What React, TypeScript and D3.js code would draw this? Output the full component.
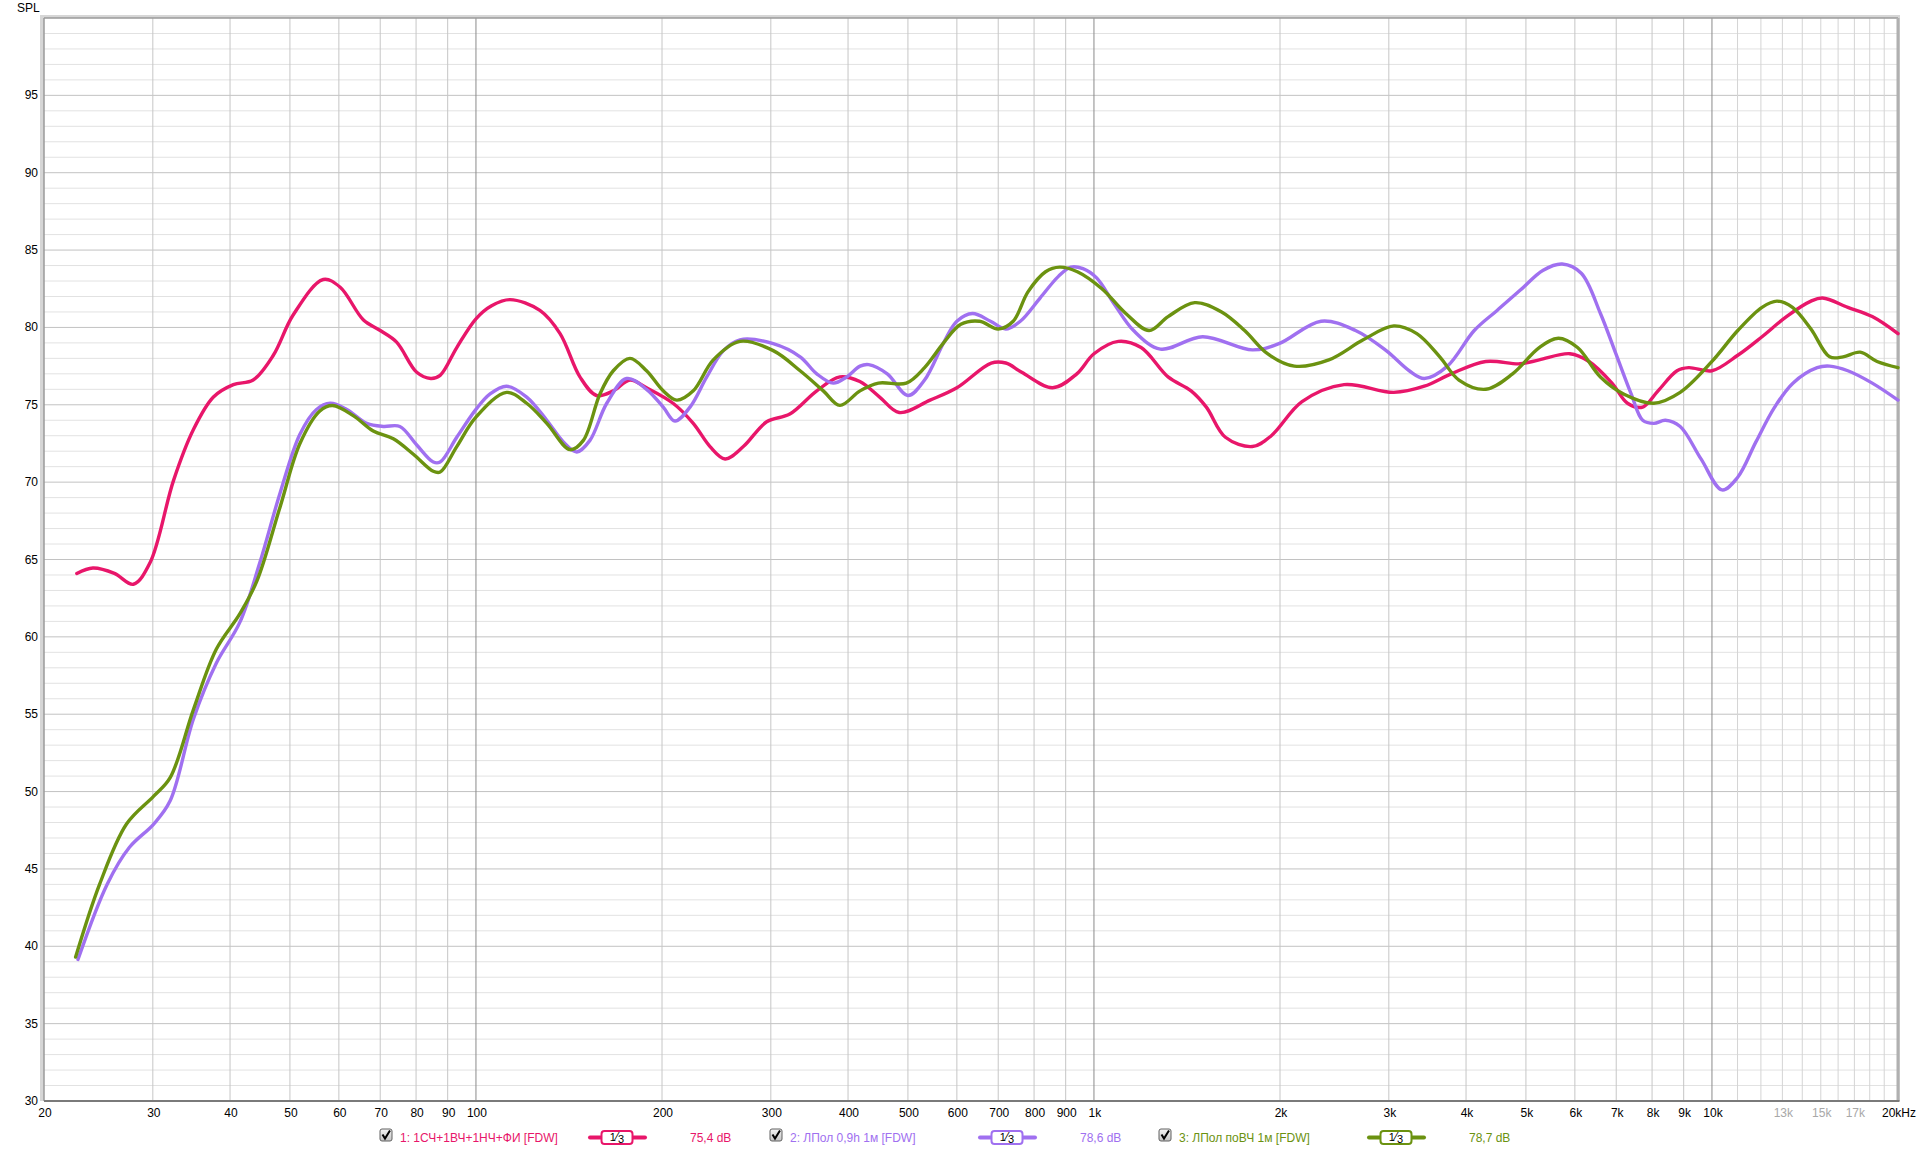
import React from "react";
import * as d3 from "d3";

// ---------- data ----------
const seriesNames = ["1: 1СЧ+1ВЧ+1НЧ+ФИ [FDW]", "2: ЛПол 0,9h 1м [FDW]", "3: ЛПол поВЧ 1м [FDW]"];
const seriesLevels = ["75,4 dB", "78,6 dB", "78,7 dB"];
const seriesColors = ["#e8166a", "#a070f0", "#6b9210"];

const series1: [number, number][] = [
  [22.6, 64.1], [24.0, 64.45], [26, 64.1], [27.9, 63.4], [29.7, 64.8], [32.4, 70.1], [34.9, 73.4],
  [37.6, 75.5], [40.5, 76.3], [43.6, 76.6], [47, 78.2], [50.6, 80.8], [56.6, 83.1], [60.3, 82.6],
  [65.7, 80.5], [70, 79.8], [74.4, 79.05], [80.2, 77.1], [84.5, 76.7], [87.5, 76.9], [93.1, 78.7],
  [100, 80.56], [106, 81.4], [113.5, 81.8], [126.9, 81.1], [136.8, 79.6], [147.3, 76.8], [156.7, 75.6],
  [166.8, 75.9], [177.5, 76.6], [188.8, 76.1], [208.4, 75.1], [224.7, 73.8], [239.2, 72.3], [253, 71.5],
  [270.8, 72.3], [295.4, 73.9], [322, 74.4], [356, 75.9], [388, 76.8], [418, 76.5], [450, 75.5],
  [484, 74.5], [543, 75.3], [600, 76.1], [682, 77.7], [720, 77.7], [764, 77.1], [857, 76.1],
  [938, 77.0], [1000, 78.3], [1095, 79.1], [1192, 78.7], [1318, 76.8], [1436, 75.9], [1520, 74.85],
  [1632, 72.9], [1804, 72.3], [1936, 73.0], [2171, 75.2], [2539, 76.3], [3056, 75.8], [3424, 76.2],
  [3785, 77.0], [4305, 77.8], [4892, 77.65], [5254, 77.9], [5890, 78.3], [6325, 77.8], [6890, 76.4],
  [7300, 75.1], [7725, 74.85], [8180, 75.9], [8780, 77.2], [9170, 77.4], [10000, 77.2], [11010, 78.2],
  [12050, 79.4], [13200, 80.7], [14460, 81.7], [15100, 81.9], [16590, 81.3], [18170, 80.7], [20000, 79.6],
];

const series2: [number, number][] = [
  [22.7, 39.15], [25.3, 44.0], [27.5, 46.4], [30.1, 47.9], [32.0, 49.4], [34.9, 54.7], [38.0, 58.3],
  [41.5, 60.95], [44.7, 64.8], [48.2, 69.3], [51.9, 73.1], [55.2, 74.7], [58.1, 75.1], [61.8, 74.7],
  [66.6, 73.8], [70.8, 73.6], [75.3, 73.6], [80.2, 72.4], [85.3, 71.3], [87.5, 71.3], [93.1, 72.9],
  [100, 74.7], [105.4, 75.7], [112.1, 76.2], [120.8, 75.5], [130.2, 74.0], [138.5, 72.6], [145.6, 71.95],
  [152.9, 72.7], [162.8, 75.1], [175.3, 76.7], [188.8, 76.0], [200.9, 74.85], [209.9, 73.95], [222, 74.85],
  [236.3, 76.8], [251.4, 78.5], [267.4, 79.2], [302.7, 78.95], [334.6, 78.1], [356, 77.0], [378.6, 76.4],
  [397.9, 76.8], [418.3, 77.5], [432, 77.6], [463, 77.0], [500, 75.6], [532, 76.6], [571, 79.0],
  [600, 80.4], [636, 80.9], [680, 80.4], [720, 79.9], [760, 80.4], [818, 81.9], [876, 83.3], [917, 83.9],
  [960, 83.8], [1010, 83.2], [1079, 81.5], [1159, 79.8], [1281, 78.6], [1499, 79.4], [1804, 78.55],
  [1992, 78.95], [2331, 80.4], [2650, 79.8], [2971, 78.5], [3237, 77.2], [3424, 76.7], [3733, 77.5],
  [4124, 79.8], [4491, 81.1], [4892, 82.4], [5332, 83.7], [5723, 84.1], [6145, 83.5], [6600, 80.9],
  [6990, 78.3], [7400, 75.7], [7725, 74.0], [8055, 73.8], [8408, 74.0], [8883, 73.6], [9600, 71.5],
  [10380, 69.5], [11000, 70.3], [11780, 72.6], [12610, 74.8], [13520, 76.4], [14800, 77.4], [15500, 77.5],
  [16590, 77.2], [18170, 76.4], [20000, 75.3],
];

const series3: [number, number][] = [
  [22.5, 39.3], [24.6, 44.0], [27.2, 47.9], [30.1, 49.7], [32.0, 50.9], [34.9, 55.3], [38.0, 59.2],
  [41.5, 61.5], [44.2, 63.6], [48.2, 68.4], [51.9, 72.5], [55.9, 74.6], [58.6, 74.95], [63.3, 74.3],
  [68.2, 73.3], [73.5, 72.8], [79.2, 71.8], [85.3, 70.7], [87.5, 70.65], [93.1, 72.3], [100, 74.2],
  [112.1, 75.8], [120.8, 75.1], [130.2, 73.8], [142, 72.1], [149.2, 72.7], [158.7, 75.7], [166.8, 77.2],
  [177.5, 78.0], [188.8, 77.2], [200.9, 75.9], [211.3, 75.3], [224.7, 75.9], [242.1, 77.9], [267.4, 79.1],
  [302.7, 78.5], [334.6, 77.2], [364.8, 75.9], [388, 74.96], [418.3, 75.9], [448, 76.4], [497, 76.4],
  [532, 77.4], [571, 79.0], [609, 80.2], [653, 80.4], [700, 79.9], [740, 80.4], [782, 82.3], [835, 83.6],
  [880, 83.9], [940, 83.6], [1030, 82.5], [1126, 80.9], [1228, 79.8], [1318, 80.7],
  [1456, 81.6], [1609, 81.0], [1753, 79.8], [1909, 78.3], [2110, 77.5], [2399, 77.9], [2727, 79.2],
  [3056, 80.1], [3330, 79.6], [3627, 78.1], [3896, 76.6], [4305, 76.0], [4757, 77.0], [5254, 78.7],
  [5644, 79.3], [6060, 78.7], [6600, 76.8], [7193, 75.7], [8055, 75.1], [8883, 75.8], [10000, 77.8],
  [11010, 79.8], [12050, 81.3], [12740, 81.7], [13500, 81.3], [14460, 79.9], [15500, 78.1], [16300, 78.1],
  [17370, 78.4], [18500, 77.8], [20000, 77.4],
];

const xTickValues = [20, 30, 40, 50, 60, 70, 80, 90, 100, 200, 300, 400, 500, 600, 700, 800, 900,
  1000, 2000, 3000, 4000, 5000, 6000, 7000, 8000, 9000, 10000, 13000, 15000, 17000, 20000];
const xTickLabels = ["20", "30", "40", "50", "60", "70", "80", "90", "100", "200", "300", "400", "500",
  "600", "700", "800", "900", "1k", "2k", "3k", "4k", "5k", "6k", "7k", "8k", "9k", "10k", "13k", "15k",
  "17k", "20kHz"];
const xGrayLabels = [13000, 15000, 17000];
const xGridValues = [30, 40, 50, 60, 70, 80, 90, 100, 200, 300, 400, 500, 600, 700, 800, 900, 1000,
  2000, 3000, 4000, 5000, 6000, 7000, 8000, 9000, 10000, 11000, 12000, 13000, 14000, 15000, 16000,
  17000, 18000, 19000];
const xDarkGrid = [100, 1000, 10000];
const yTickValues = [30, 35, 40, 45, 50, 55, 60, 65, 70, 75, 80, 85, 90, 95];

const allSeries = [series1, series2, series3];

// ---------- layout ----------
const W = 1920, H = 1152;
const L = 44, R = 1898, T = 18, B = 1101;
const FONT = "'Liberation Sans', Arial, sans-serif";

export default function App() {
  const x = d3.scaleLog().domain([20, 20000]).range([L, R]);
  const y = d3.scaleLinear().domain([30, 100]).range([B, T]);
  const line = d3.line<[number, number]>()
    .x((d) => x(d[0]))
    .y((d) => y(d[1]))
    .curve(d3.curveCatmullRom.alpha(0.5));

  const yMinor = d3.range(31, 100, 1).filter((v) => v % 5 !== 0);
  const yMajor = d3.range(35, 100, 5);

  const legendX = [380, 770, 1159];

  return (
    <svg width={W} height={H} style={{ position: "absolute", left: 0, top: 0, background: "#fff" }}
      fontFamily={FONT}>
      <rect x={0} y={0} width={W} height={H} fill="#fff" />
      {/* frame shadow */}
      <rect x={L - 4} y={T - 3} width={R - L + 6} height={B - T + 3} fill="#d6d6d6" />
      <rect x={L} y={T} width={R - L} height={B - T} fill="#fff" />

      {/* horizontal grid */}
      {yMinor.map((v) => (
        <line key={"ym" + v} x1={L} x2={R} y1={y(v)} y2={y(v)} stroke="#e2e2e2" strokeWidth={1} />
      ))}
      {yMajor.map((v) => (
        <line key={"yM" + v} x1={L} x2={R} y1={y(v)} y2={y(v)} stroke="#c2c2c2" strokeWidth={1} />
      ))}
      {/* vertical grid */}
      {xGridValues.map((v) => {
        const dark = xDarkGrid.includes(v);
        const light = v > 10000;
        return (
          <line key={"xg" + v} x1={x(v)} x2={x(v)} y1={T} y2={B}
            stroke={dark ? "#8a8a8a" : light ? "#d4d4d4" : "#c6c6c6"} strokeWidth={1} />
        );
      })}

      {/* frame */}
      <line x1={L} x2={L} y1={T} y2={B} stroke="#9a9a9a" strokeWidth={1.5} />
      <line x1={L} x2={R} y1={T} y2={T} stroke="#9a9a9a" strokeWidth={1.5} />
      <line x1={R} x2={R} y1={T} y2={B} stroke="#b0b0b0" strokeWidth={3} />
      <line x1={L} x2={R + 1.5} y1={B} y2={B} stroke="#7a7a7a" strokeWidth={2} />

      {/* curves */}
      {allSeries.map((s, i) => (
        <path key={"s" + i} d={line(s) || ""} fill="none" stroke={seriesColors[i]} strokeWidth={3.4}
          strokeLinejoin="round" strokeLinecap="round" />
      ))}

      {/* y axis labels */}
      <text x={17} y={12} fontSize={12} fill="#000">SPL</text>
      {yTickValues.map((v) => (
        <text key={"yt" + v} x={38} y={y(v) + 4} fontSize={12} textAnchor="end" fill="#000">{v}</text>
      ))}

      {/* x axis labels */}
      {xTickValues.map((v, i) => (
        <text key={"xt" + v} x={x(v) + 1} y={1117} fontSize={12} textAnchor="middle"
          fill={xGrayLabels.includes(v) ? "#a8a8a8" : "#000"}>{xTickLabels[i]}</text>
      ))}

      {/* legend */}
      {seriesNames.map((name, i) => {
        const bx = legendX[i];
        const c = seriesColors[i];
        const fx = bx + 210;
        return (
          <g key={"lg" + i}>
            <defs>
              <linearGradient id={"cbg" + i} x1="0" y1="0" x2="0" y2="1">
                <stop offset="0" stopColor="#f4f4f4" />
                <stop offset="1" stopColor="#c4c4c4" />
              </linearGradient>
            </defs>
            <rect x={bx} y={1129} width={12} height={12} rx={2} fill={`url(#cbg${i})`} stroke="#606060" strokeWidth={1} />
            <path d={`M${bx + 2.5},${1134.5} L${bx + 5},${1138.5} L${bx + 10},${1130.5}`} fill="none" stroke="#000" strokeWidth={2} />
            <text x={bx + 20} y={1142} fontSize={12} fill={c}>{name}</text>
            <line x1={fx} x2={fx + 55} y1={1137.5} y2={1137.5} stroke={c} strokeWidth={4} strokeLinecap="round" />
            <rect x={fx + 11.5} y={1131} width={31} height={13} rx={3} fill="#fff" stroke={c} strokeWidth={2} />
            <text x={fx + 27} y={1142} fontSize={12} textAnchor="middle" fill="#000">
              <tspan fontSize={11} dy={-1}>1</tspan>
              <tspan fontSize={12} dy={0}>⁄</tspan>
              <tspan fontSize={11} dy={2}>3</tspan>
            </text>
            <text x={bx + 310} y={1142} fontSize={12} fill={c}>{seriesLevels[i]}</text>
          </g>
        );
      })}
    </svg>
  );
}
